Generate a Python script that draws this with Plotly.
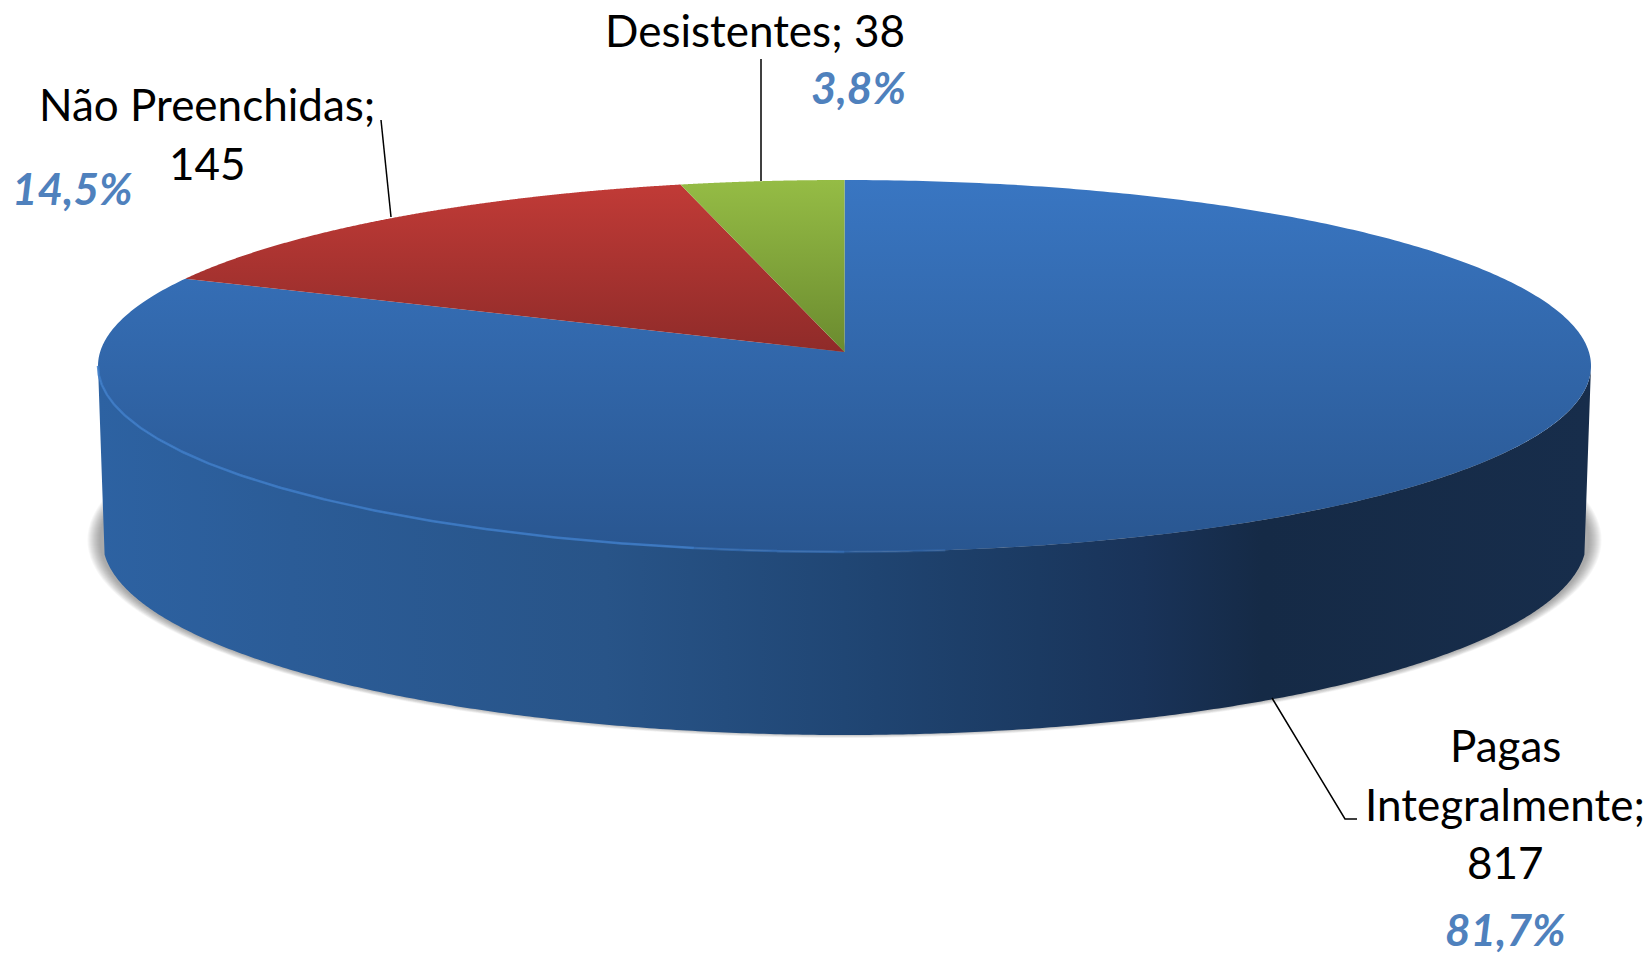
import numpy as np
import plotly.graph_objects as go

# ---- data ----
categories = ["Pagas Integralmente", "Não Preenchidas", "Desistentes"]
values = [817, 145, 38]
percent_labels = ["81,7%", "14,5%", "3,8%"]
label_lines = [["Pagas", "Integralmente;", "817"], ["Não Preenchidas;", "145"], ["Desistentes; 38"]]

# ---- styling ----
top_grad = [("#3976C2", "#295690"), ("#C23B37", "#8F2B29"), ("#95BC45", "#6B8B2F")]
top_span = [(180, 552), (180, 352), (180, 352)]
wall_stops = [(0, "#2D62A2"), (.13, "#2B5C97"), (.34, "#285488"), (.5, "#204674"), (.63, "#1B3A62"),
              (.70, "#193359"), (.78, "#152A46"), (1, "#172D4B")]
CX, CY, A, B, K = 844.5, 352, 744.4, 184.9, 0.075
BASE_CY, BASE_A, BASE_B = 540, 742, 195
SHADOW_CY, SHADOW_B = 540, 192
FONT = "Lato"
TEXT_SIZE, PCT_SIZE = 44, 44
line_pos = [[(1505, 745), (1505, 804), (1505, 862)], [(207, 104), (207, 163)], [(755, 30)]]
pct_pos = [(1505, 929), (72, 188), (858, 87)]
leaders = [([1272, 1345, 1357], [698, 819, 819]), ([381, 391], [120, 217]), ([761, 761], [59, 181])]
rim_parts = [(1.06, 2.0, 0.85), (1.0, 1.06, 0.55), (0.96, 1.0, 0.3)]


def proj(t, a=A, b=B, cy=CY, k=K):
    w = 1 + k * np.cos(t)
    return CX + a * np.sin(t) / w, cy - b * np.cos(t) / w


fig = go.Figure()

# soft contact shadow under the base
for d in np.arange(15, 2, -1.0):
    t = np.linspace(0, 2 * np.pi, 361)
    x, y = proj(t, BASE_A + d, SHADOW_B + d * 0.4, SHADOW_CY, 0)
    fig.add_trace(go.Scatter(x=x, y=y, mode="none", fill="toself", hoverinfo="skip", showlegend=False,
                             fillcolor="rgba(60,60,60,0.045)"))

# slice angles, clockwise from 12 o'clock
edges = np.concatenate([[0], np.cumsum(values)]) / np.sum(values) * 2 * np.pi
t_right, t_left = np.arccos(-K), 2 * np.pi - np.arccos(-K)

# front wall
for i, name in enumerate(categories):
    lo, hi = max(edges[i], t_right), min(edges[i + 1], t_left)
    if hi <= lo:
        continue
    t = np.linspace(lo, hi, 400)
    tb = np.linspace(hi, lo, 400)
    xt, yt = proj(t)
    xb, yb = proj(tb, BASE_A, BASE_B, BASE_CY, 0)
    fig.add_trace(go.Scatter(x=np.r_[xt, xb], y=np.r_[yt, yb], mode="none", fill="toself", name=name,
                             showlegend=False, hoverinfo="name",
                             fillgradient=dict(type="horizontal", start=98, stop=1591,
                                               colorscale=[[p, c] for p, c in wall_stops])))

# top face
for i, name in enumerate(categories):
    t = np.linspace(edges[i], edges[i + 1], 500)
    x, y = proj(t)
    x, y = np.r_[CX, x, CX], np.r_[CY, y, CY]
    c0, c1 = top_grad[i]
    y0, y1 = top_span[i]
    fig.add_trace(go.Scatter(x=x, y=y, mode="none", fill="toself", name=name, showlegend=False,
                             hoverinfo="name",
                             fillgradient=dict(type="vertical", start=y0, stop=y1,
                                               colorscale=[[0, c0], [1, c1]])))

# bevel highlight along the front rim, fading towards the right
for f0, f1, alpha in rim_parts:
    t = np.linspace(np.pi * f0, min(np.pi * f1, t_left), 200)
    x, y = proj(t)
    fig.add_trace(go.Scatter(x=x, y=y, mode="lines", line=dict(color=f"rgba(62,124,200,{alpha})", width=2.5),
                             hoverinfo="skip", showlegend=False))

# leader lines
for lx, ly in leaders:
    fig.add_trace(go.Scatter(x=lx, y=ly, mode="lines", line=dict(color="#000000", width=1.5),
                             hoverinfo="skip", showlegend=False))

for lines, positions in zip(label_lines, line_pos):
    for s, (x, y) in zip(lines, positions):
        fig.add_annotation(x=x, y=y, text=s, showarrow=False, xanchor="center", yanchor="middle",
                           font=dict(family=FONT, size=TEXT_SIZE, color="#000000"))
for s, (x, y) in zip(percent_labels, pct_pos):
    fig.add_annotation(x=x, y=y, text=f"<b><i>{s}</i></b>", showarrow=False, xanchor="center", yanchor="middle",
                       font=dict(family=FONT, size=PCT_SIZE, color="#4F81BD"))

fig.update_layout(width=1652, height=954, margin=dict(l=0, r=0, t=0, b=0), paper_bgcolor="white",
                  plot_bgcolor="white", showlegend=False,
                  xaxis=dict(range=[0, 1652], visible=False, fixedrange=True),
                  yaxis=dict(range=[954, 0], visible=False, fixedrange=True))
fig.write_html("out.html", config={"displayModeBar": False},
               post_script="document.body.style.margin='0';document.body.style.overflow='hidden';")
